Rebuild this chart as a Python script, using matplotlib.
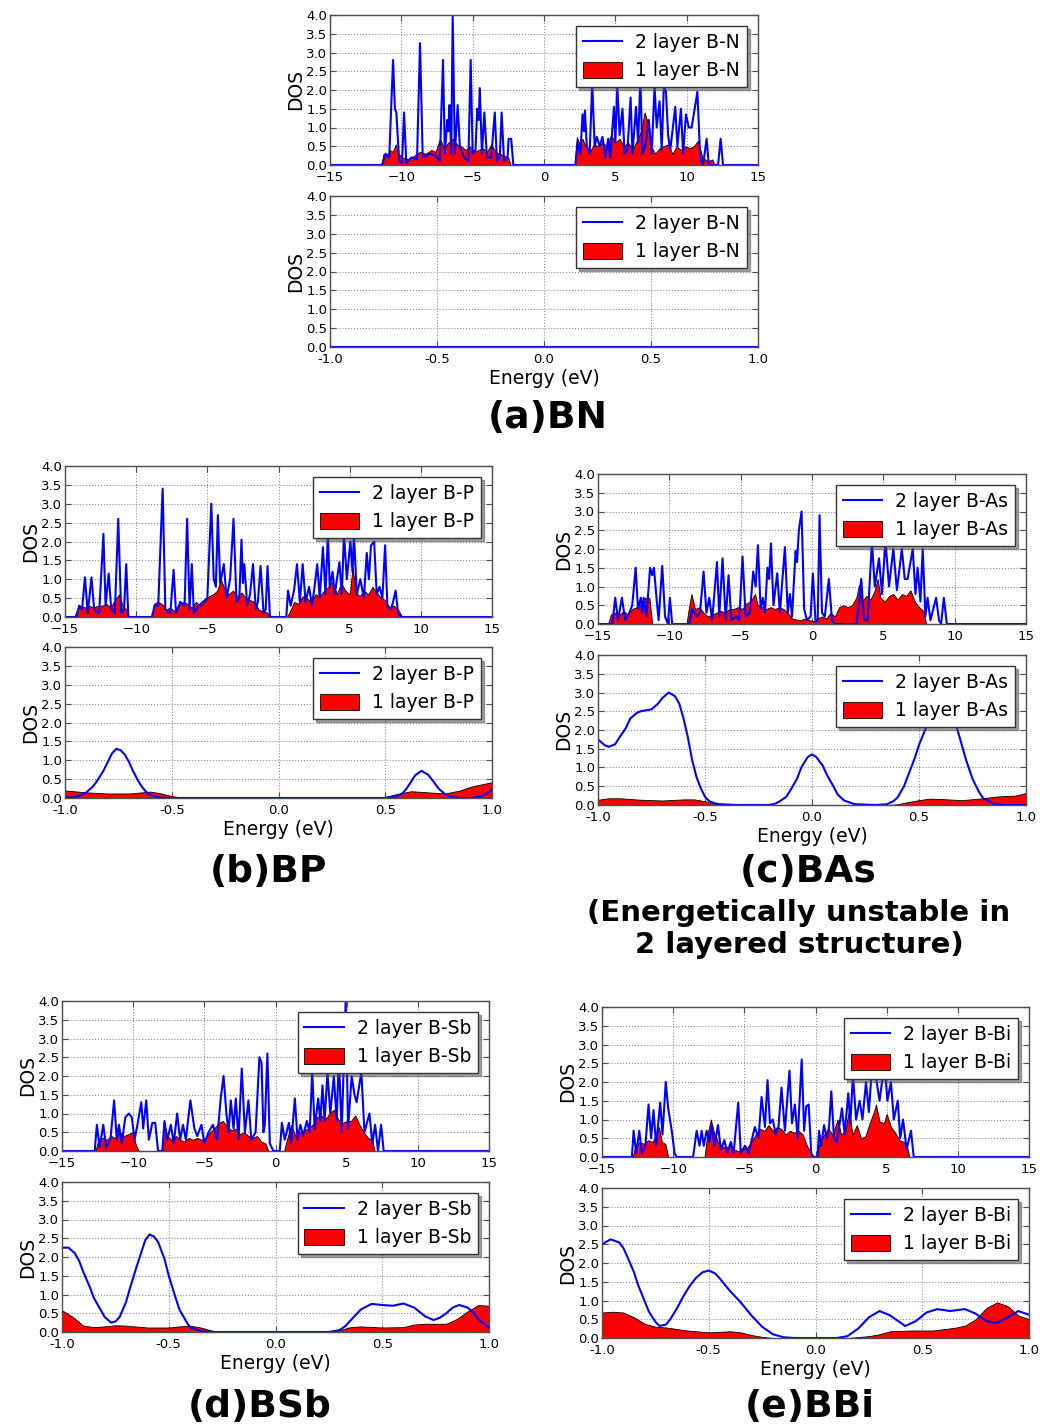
import matplotlib
matplotlib.use("Agg")
import matplotlib.pyplot as plt
import numpy as np

plt.rcParams['font.family'] = ['DejaVu Sans']

# ---------------- data ----------------
# wide range DOS, (energy, dos) pairs
bn_wide_2 = [(-15, 0), (-11.35, 0), (-11.1, 0.3), (-10.85, 0.2), (-10.58, 2.8), (-10.45, 1.5), (-10.35, 1.4),
             (-10.15, 0.1), (-9.95, 0.05), (-9.81, 1.4), (-9.65, 0.05), (-9.3, 0.2), (-8.9, 0.15), (-8.69, 3.25),
             (-8.5, 0.2), (-8.0, 0.3), (-7.6, 0.25), (-7.3, 0.1), (-7.08, 2.8), (-6.95, 0.3), (-6.78, 1.2),
             (-6.7, 0.9), (-6.62, 1.6), (-6.5, 0.3), (-6.4, 4.0), (-6.25, 0.3), (-6.05, 1.6), (-5.9, 0.5),
             (-5.6, 0.2), (-5.3, 0.1), (-5.14, 2.8), (-5.0, 0.3), (-4.8, 0.4), (-4.68, 1.5), (-4.58, 1.2),
             (-4.5, 2.05), (-4.35, 0.3), (-4.18, 1.4), (-4.0, 0.2), (-3.7, 0.2), (-3.45, 1.4), (-3.3, 0.1),
             (-3.1, 0.2), (-2.97, 1.4), (-2.8, 0.1), (-2.55, 0.2), (-2.48, 0.7), (-2.3, 0.7), (-2.15, 0.0),
             (2.2, 0.0), (2.35, 0.6), (2.55, 0.3), (2.7, 1.35), (2.8, 0.9), (2.87, 1.45), (3.0, 0.5), (3.2, 0.3),
             (3.38, 2.2), (3.55, 0.5), (3.7, 0.75), (3.9, 0.5), (4.1, 0.75), (4.3, 0.2), (4.5, 0.7), (4.65, 0.2),
             (4.9, 1.55), (5.0, 0.6), (5.14, 2.1), (5.3, 0.8), (5.5, 1.5), (5.65, 0.3), (5.85, 0.4), (6.07, 1.8),
             (6.2, 0.3), (6.45, 1.55), (6.6, 0.6), (6.75, 2.3), (6.9, 0.3), (7.1, 0.5), (7.35, 1.2), (7.55, 0.3),
             (7.75, 2.1), (7.9, 1.0), (8.1, 1.7), (8.25, 0.4), (8.4, 2.1), (8.55, 1.95), (8.7, 0.8), (8.85, 0.4),
             (9.2, 1.55), (9.35, 0.5), (9.6, 1.5), (9.75, 0.3), (9.95, 1.35), (10.15, 1.0), (10.35, 1.0),
             (10.75, 1.95), (10.95, 0.2), (11.15, 0.0), (11.4, 0.7), (11.55, 0.0), (12.2, 0.0), (12.38, 0.7),
             (12.55, 0.0), (15, 0)]
bn_wide_1 = [(-15, 0), (-11.4, 0), (-11.25, 0.3), (-11.0, 0.25), (-10.8, 0.4), (-10.6, 0.35), (-10.4, 0.55),
             (-10.2, 0.3), (-9.9, 0.2), (-9.5, 0.15), (-9.1, 0.25), (-8.7, 0.35), (-8.3, 0.3), (-7.9, 0.4),
             (-7.6, 0.35), (-7.3, 0.7), (-7.0, 0.45), (-6.7, 0.6), (-6.4, 0.7), (-6.1, 0.55), (-5.8, 0.5),
             (-5.5, 0.4), (-5.2, 0.5), (-4.9, 0.35), (-4.6, 0.4), (-4.3, 0.45), (-4.0, 0.35), (-3.7, 0.55),
             (-3.4, 0.35), (-3.1, 0.3), (-2.8, 0.25), (-2.5, 0.2), (-2.35, 0.0), (2.15, 0.0), (2.3, 0.75),
             (2.5, 0.55), (2.7, 0.7), (2.9, 0.5), (3.2, 0.35), (3.5, 0.55), (3.8, 0.5), (4.1, 0.6), (4.4, 0.5),
             (4.7, 0.8), (5.0, 0.6), (5.3, 0.7), (5.6, 0.5), (5.9, 0.6), (6.2, 0.4), (6.5, 0.65), (6.8, 0.9),
             (7.05, 1.4), (7.3, 1.1), (7.5, 0.5), (7.8, 0.3), (8.1, 0.45), (8.4, 0.5), (8.7, 0.55), (9.0, 0.3),
             (9.3, 0.5), (9.6, 0.4), (9.9, 0.5), (10.2, 0.45), (10.5, 0.5), (10.8, 0.65), (11.1, 0.2),
             (11.5, 0.1), (11.8, 0.15), (11.95, 0.0), (15, 0)]

bp_wide_2 = [(-15, 0), (-14.2, 0), (-14.0, 0.3), (-13.8, 0.2), (-13.6, 1.05), (-13.4, 0.1), (-13.14, 1.05),
             (-12.95, 0.2), (-12.6, 0.1), (-12.3, 2.2), (-12.15, 0.3), (-11.93, 1.15), (-11.75, 0.2), (-11.5, 0.1),
             (-11.26, 2.6), (-11.05, 0.1), (-10.85, 0.2), (-10.7, 1.4), (-10.55, 0.0), (-8.9, 0.0), (-8.7, 0.3),
             (-8.45, 0.3), (-8.14, 3.4), (-7.95, 0.2), (-7.6, 0.1), (-7.37, 1.25), (-7.2, 0.1), (-6.9, 0.4),
             (-6.6, 0.3), (-6.42, 2.6), (-6.25, 0.2), (-6.09, 1.4), (-5.95, 0.1), (-5.6, 0.3), (-5.3, 0.4),
             (-5.0, 0.5), (-4.72, 3.0), (-4.55, 1.0), (-4.4, 0.8), (-4.26, 2.7), (-4.1, 0.9), (-3.84, 1.4),
             (-3.65, 0.5), (-3.4, 1.0), (-3.16, 2.6), (-2.95, 0.4), (-2.75, 0.5), (-2.6, 2.05), (-2.5, 0.9),
             (-2.4, 1.4), (-2.2, 0.3), (-2.0, 0.6), (-1.79, 1.4), (-1.6, 0.2), (-1.45, 0.4), (-1.26, 1.35),
             (-1.05, 0.1), (-0.9, 0.2), (-0.77, 1.35), (-0.6, 0.0), (0.55, 0.0), (0.67, 0.7), (0.85, 0.3),
             (1.09, 0.7), (1.3, 1.4), (1.5, 0.4), (1.7, 1.4), (1.9, 0.4), (2.15, 0.8), (2.35, 0.3), (2.5, 0.7),
             (2.72, 1.4), (2.9, 0.5), (3.12, 1.85), (3.3, 0.6), (3.47, 2.2), (3.6, 0.8), (3.8, 1.2), (3.95, 0.6),
             (4.28, 1.45), (4.45, 0.6), (4.6, 2.2), (4.8, 1.0), (5.05, 2.0), (5.2, 1.2), (5.3, 2.2), (5.5, 0.6),
             (5.75, 1.0), (6.0, 0.5), (6.2, 1.7), (6.35, 1.0), (6.5, 1.9), (6.72, 2.0), (6.9, 0.6), (7.1, 0.8),
             (7.3, 0.5), (7.49, 1.9), (7.65, 0.3), (7.9, 0.2), (8.05, 0.4), (8.23, 0.7), (8.4, 0.1), (8.6, 0.0),
             (15, 0)]
bp_wide_1 = [(-15, 0), (-14.35, 0), (-14.15, 0.2), (-13.9, 0.3), (-13.6, 0.25), (-13.3, 0.3), (-13.0, 0.25),
             (-12.7, 0.3), (-12.4, 0.3), (-12.1, 0.35), (-11.8, 0.25), (-11.5, 0.45), (-11.2, 0.6), (-10.95, 0.3),
             (-10.7, 0.2), (-10.5, 0.0), (-8.9, 0.0), (-8.75, 0.35), (-8.5, 0.4), (-8.2, 0.35), (-7.9, 0.2),
             (-7.6, 0.25), (-7.3, 0.15), (-7.0, 0.3), (-6.7, 0.4), (-6.4, 0.35), (-6.1, 0.25), (-5.8, 0.4),
             (-5.5, 0.3), (-5.2, 0.4), (-4.9, 0.55), (-4.6, 0.6), (-4.3, 0.7), (-4.05, 1.0), (-3.8, 0.75),
             (-3.5, 0.6), (-3.2, 0.7), (-2.9, 0.55), (-2.6, 0.65), (-2.3, 0.5), (-2.0, 0.45), (-1.7, 0.4),
             (-1.4, 0.2), (-1.1, 0.15), (-0.8, 0.12), (-0.6, 0.0), (0.6, 0.0), (0.8, 0.15), (1.1, 0.4),
             (1.4, 0.35), (1.7, 0.55), (2.0, 0.5), (2.3, 0.4), (2.6, 0.6), (2.9, 0.55), (3.2, 0.7), (3.5, 0.8),
             (3.8, 0.95), (4.1, 0.6), (4.4, 0.9), (4.7, 0.7), (5.0, 0.6), (5.2, 1.3), (5.45, 0.65), (5.7, 0.55),
             (6.0, 0.7), (6.3, 0.6), (6.6, 0.8), (6.9, 0.65), (7.2, 0.5), (7.5, 0.45), (7.8, 0.25), (8.1, 0.3),
             (8.4, 0.2), (8.7, 0.0), (15, 0)]

bas_wide_2 = [(-15, 0), (-14.0, 0), (-13.79, 0.7), (-13.6, 0.1), (-13.32, 0.7), (-13.1, 0.1), (-12.8, 0.3),
              (-12.6, 0.5), (-12.36, 1.5), (-12.2, 0.4), (-12.0, 0.7), (-11.9, 0.3), (-11.8, 0.7), (-11.6, 0.2),
              (-11.35, 1.5), (-11.2, 1.3), (-11.08, 1.5), (-10.9, 0.7), (-10.75, 0.1), (-10.5, 1.55), (-10.3, 0.2),
              (-10.1, 0.0), (-9.96, 0.7), (-9.8, 0.0), (-8.6, 0.0), (-8.4, 0.4), (-8.1, 0.2), (-7.85, 0.3),
              (-7.6, 1.4), (-7.4, 0.3), (-7.2, 0.7), (-7.0, 0.1), (-6.66, 1.65), (-6.5, 0.2), (-6.27, 1.75),
              (-6.05, 0.1), (-5.85, 1.3), (-5.65, 0.1), (-5.3, 0.2), (-5.1, 0.1), (-4.87, 1.8), (-4.65, 0.2),
              (-4.35, 0.3), (-4.12, 1.4), (-3.95, 1.0), (-3.79, 2.1), (-3.6, 0.4), (-3.45, 0.7), (-3.3, 0.3),
              (-3.12, 1.5), (-3.0, 1.2), (-2.88, 2.15), (-2.7, 0.5), (-2.44, 1.35), (-2.25, 0.3), (-1.9, 2.05),
              (-1.7, 0.3), (-1.55, 0.8), (-1.4, 0.2), (-1.15, 1.95), (-1.05, 1.65), (-0.92, 2.5), (-0.73, 3.0),
              (-0.55, 0.4), (-0.35, 0.1), (-0.1, 0.2), (0.06, 1.35), (0.25, 0.05), (0.4, 0.1), (0.53, 2.9),
              (0.7, 0.3), (0.9, 0.2), (1.18, 1.2), (1.4, 0.1), (1.6, 0.0), (3.1, 0.0), (3.3, 0.5), (3.45, 1.2),
              (3.65, 0.1), (3.9, 0.1), (4.2, 2.2), (4.4, 1.0), (4.7, 1.75), (4.9, 0.8), (5.15, 2.2), (5.4, 1.0),
              (5.7, 2.0), (5.95, 0.9), (6.3, 2.0), (6.5, 1.2), (6.7, 1.2), (7.06, 2.0), (7.25, 0.8), (7.4, 1.5),
              (7.6, 0.6), (7.76, 2.0), (7.95, 0.2), (8.1, 0.7), (8.3, 0.1), (8.7, 0.7), (8.9, 0.1), (9.05, 0.0),
              (9.24, 0.7), (9.45, 0.0), (15, 0)]
bas_wide_1 = [(-15, 0), (-14.3, 0), (-14.1, 0.25), (-13.8, 0.3), (-13.5, 0.25), (-13.2, 0.35), (-12.9, 0.25),
              (-12.6, 0.4), (-12.3, 0.45), (-12.0, 0.5), (-11.7, 0.7), (-11.4, 0.7), (-11.2, 0.0), (-8.8, 0.0),
              (-8.6, 0.5), (-8.45, 0.8), (-8.2, 0.4), (-7.9, 0.45), (-7.6, 0.3), (-7.3, 0.2), (-7.0, 0.25),
              (-6.7, 0.3), (-6.4, 0.35), (-6.1, 0.3), (-5.8, 0.4), (-5.5, 0.4), (-5.2, 0.45), (-4.9, 0.4),
              (-4.6, 0.55), (-4.3, 0.6), (-4.0, 0.8), (-3.8, 0.5), (-3.5, 0.45), (-3.2, 0.4), (-2.9, 0.45),
              (-2.6, 0.4), (-2.3, 0.45), (-2.0, 0.4), (-1.7, 0.3), (-1.4, 0.15), (-1.1, 0.12), (-0.8, 0.1),
              (-0.5, 0.15), (-0.2, 0.1), (0.1, 0.08), (0.4, 0.15), (0.7, 0.2), (1.0, 0.15), (1.3, 0.3), (1.6, 0.2),
              (1.9, 0.45), (2.2, 0.5), (2.5, 0.45), (2.8, 0.5), (3.1, 0.7), (3.3, 1.05), (3.5, 0.6), (3.8, 0.75),
              (4.1, 0.65), (4.4, 0.9), (4.6, 1.2), (4.8, 0.7), (5.1, 0.6), (5.4, 0.75), (5.7, 0.8), (6.0, 0.65),
              (6.3, 0.8), (6.6, 0.75), (6.9, 0.9), (7.2, 0.6), (7.5, 0.45), (7.8, 0.35), (8.0, 0.0), (15, 0)]

bsb_wide_2 = [(-15, 0), (-12.7, 0), (-12.55, 0.7), (-12.35, 0.1), (-12.1, 0.7), (-11.9, 0.1), (-11.6, 0.3),
              (-11.34, 1.35), (-11.15, 0.3), (-11.0, 0.7), (-10.8, 0.2), (-10.55, 0.9), (-10.3, 1.0), (-10.1, 0.9),
              (-9.9, 0.3), (-9.7, 0.7), (-9.43, 1.3), (-9.3, 0.6), (-9.08, 1.35), (-8.9, 0.3), (-8.65, 0.75),
              (-8.45, 0.75), (-8.25, 0.0), (-7.95, 0.0), (-7.8, 0.8), (-7.6, 0.3), (-7.35, 0.7), (-7.15, 0.2),
              (-6.91, 1.0), (-6.7, 0.3), (-6.5, 0.7), (-6.3, 0.3), (-5.98, 1.35), (-5.7, 0.6), (-5.5, 0.4),
              (-5.2, 0.7), (-5.0, 0.2), (-4.7, 0.5), (-4.4, 0.7), (-4.1, 0.3), (-3.85, 1.4), (-3.65, 2.0),
              (-3.45, 1.0), (-3.3, 0.5), (-3.14, 1.35), (-2.95, 0.6), (-2.79, 1.4), (-2.6, 0.3), (-2.37, 2.2),
              (-2.15, 0.5), (-1.9, 1.35), (-1.7, 0.3), (-1.4, 0.5), (-1.13, 2.5), (-0.98, 2.35), (-0.85, 0.5),
              (-0.75, 0.7), (-0.57, 2.6), (-0.4, 0.2), (-0.15, 0.0), (0.3, 0.0), (0.45, 0.75), (0.65, 0.3),
              (0.94, 0.75), (1.1, 0.2), (1.36, 1.4), (1.55, 0.3), (1.75, 0.7), (1.95, 0.4), (2.2, 0.8), (2.4, 0.5),
              (2.58, 2.1), (2.75, 0.6), (3.0, 1.4), (3.15, 0.8), (3.3, 1.75), (3.45, 0.8), (3.65, 2.1), (3.85, 1.0),
              (4.1, 2.0), (4.3, 0.8), (4.45, 2.5), (4.65, 0.5), (4.93, 4.0), (5.1, 0.6), (5.35, 2.0), (5.55, 1.5),
              (5.7, 1.3), (6.03, 2.1), (6.25, 0.5), (6.6, 1.0), (6.8, 0.2), (7.0, 0.7), (7.2, 0.0), (7.42, 0.7),
              (7.6, 0.0), (15, 0)]
bsb_wide_1 = [(-15, 0), (-12.65, 0), (-12.45, 0.3), (-12.15, 0.35), (-11.85, 0.3), (-11.55, 0.4), (-11.25, 0.35),
              (-10.95, 0.5), (-10.65, 0.4), (-10.35, 0.45), (-10.05, 0.5), (-9.8, 0.15), (-9.6, 0.0), (-8.0, 0.0),
              (-7.85, 0.75), (-7.6, 0.4), (-7.3, 0.3), (-7.0, 0.4), (-6.7, 0.3), (-6.4, 0.25), (-6.1, 0.35),
              (-5.8, 0.3), (-5.5, 0.35), (-5.2, 0.3), (-4.9, 0.35), (-4.6, 0.5), (-4.3, 0.6), (-4.0, 0.75),
              (-3.7, 0.8), (-3.4, 0.65), (-3.1, 0.55), (-2.8, 0.6), (-2.5, 0.45), (-2.2, 0.5), (-1.9, 0.4),
              (-1.6, 0.35), (-1.3, 0.4), (-1.0, 0.25), (-0.7, 0.2), (-0.5, 0.0), (0.6, 0.0), (0.8, 0.3), (1.1, 0.7),
              (1.4, 0.4), (1.7, 0.5), (2.0, 0.55), (2.3, 0.6), (2.6, 0.7), (2.9, 0.9), (3.2, 0.95), (3.5, 0.85),
              (3.8, 1.0), (4.1, 1.1), (4.4, 0.85), (4.7, 0.75), (5.0, 0.8), (5.3, 0.8), (5.6, 0.95), (5.9, 0.7),
              (6.2, 0.5), (6.5, 0.35), (6.8, 0.3), (6.95, 0.0), (15, 0)]

bbi_wide_2 = [(-15, 0), (-12.9, 0), (-12.78, 0.7), (-12.6, 0.1), (-12.38, 0.7), (-12.2, 0.1), (-11.95, 0.3),
              (-11.73, 1.4), (-11.55, 0.5), (-11.38, 1.25), (-11.2, 0.3), (-10.91, 1.45), (-10.75, 0.6),
              (-10.52, 2.0), (-10.35, 1.3), (-10.1, 0.7), (-9.9, 0.1), (-9.75, 0.0), (-8.6, 0.0), (-8.35, 0.7),
              (-8.15, 0.3), (-8.0, 0.7), (-7.85, 0.3), (-7.65, 0.7), (-7.45, 0.4), (-7.29, 0.85), (-7.1, 0.3),
              (-6.85, 0.85), (-6.65, 0.2), (-6.4, 0.45), (-6.2, 0.1), (-5.95, 0.4), (-5.75, 0.1), (-5.43, 1.45),
              (-5.25, 0.1), (-4.95, 0.3), (-4.7, 0.1), (-4.26, 0.8), (-4.0, 0.5), (-3.79, 1.6), (-3.55, 0.8),
              (-3.37, 2.05), (-3.2, 0.9), (-3.0, 1.0), (-2.8, 0.6), (-2.6, 0.8), (-2.39, 1.85), (-2.15, 0.7),
              (-1.83, 2.3), (-1.65, 0.9), (-1.45, 1.4), (-1.25, 0.5), (-0.97, 2.6), (-0.8, 0.7), (-0.65, 1.35),
              (-0.48, 1.4), (-0.3, 0.1), (-0.15, 0.0), (0.15, 0.0), (0.25, 0.7), (0.4, 0.3), (0.6, 0.85),
              (0.8, 0.5), (0.95, 0.8), (1.11, 1.75), (1.3, 0.5), (1.5, 0.4), (1.86, 1.3), (2.05, 0.6), (2.3, 1.7),
              (2.45, 0.9), (2.63, 2.2), (2.85, 1.0), (3.1, 1.5), (3.3, 1.0), (3.55, 2.0), (3.75, 1.2), (3.95, 2.3),
              (4.26, 2.1), (4.5, 1.5), (4.85, 2.5), (5.05, 1.5), (5.3, 2.0), (5.5, 1.0), (5.78, 1.5), (5.95, 0.5),
              (6.15, 1.0), (6.4, 0.2), (6.71, 0.7), (6.9, 0.0), (15, 0)]
bbi_wide_1 = [(-15, 0), (-12.85, 0), (-12.65, 0.3), (-12.35, 0.4), (-12.05, 0.35), (-11.75, 0.45), (-11.45, 0.4),
              (-11.2, 0.6), (-11.0, 0.8), (-10.8, 0.4), (-10.55, 0.35), (-10.35, 0.0), (-7.8, 0.0), (-7.6, 0.6),
              (-7.35, 1.0), (-7.1, 0.6), (-6.85, 0.4), (-6.6, 0.3), (-6.3, 0.25), (-6.0, 0.3), (-5.7, 0.2),
              (-5.4, 0.15), (-5.1, 0.2), (-4.8, 0.25), (-4.5, 0.4), (-4.2, 0.6), (-3.9, 0.75), (-3.6, 0.7),
              (-3.3, 0.85), (-3.0, 0.7), (-2.7, 0.8), (-2.4, 0.75), (-2.1, 0.6), (-1.8, 0.7), (-1.5, 0.65),
              (-1.2, 0.7), (-0.9, 0.6), (-0.6, 0.3), (-0.3, 0.1), (-0.1, 0.0), (0.1, 0.0), (0.3, 0.4), (0.6, 0.6),
              (0.9, 0.75), (1.2, 0.6), (1.55, 1.0), (1.8, 0.6), (2.1, 0.7), (2.35, 1.25), (2.6, 0.6), (2.9, 0.85),
              (3.2, 0.5), (3.5, 0.55), (3.8, 0.9), (4.1, 1.2), (4.25, 1.4), (4.5, 0.95), (4.8, 0.9), (5.0, 1.15),
              (5.3, 0.8), (5.6, 0.65), (5.9, 0.45), (6.2, 0.4), (6.45, 0.25), (6.6, 0.0), (15, 0)]

# near the Fermi level, -1 .. 1 eV
bn_near_2 = [(-1.0, 0.0), (1.0, 0.0)]
bn_near_1 = [(-1.0, 0.0), (1.0, 0.0)]

bp_near_2 = [(-1.0, 0.0), (-0.95, 0.03), (-0.92, 0.08), (-0.9, 0.15), (-0.87, 0.3), (-0.85, 0.45), (-0.82, 0.72),
             (-0.8, 0.95), (-0.78, 1.18), (-0.76, 1.3), (-0.74, 1.27), (-0.72, 1.15), (-0.7, 0.95), (-0.68, 0.7),
             (-0.66, 0.48), (-0.64, 0.3), (-0.62, 0.16), (-0.6, 0.08), (-0.57, 0.03), (-0.55, 0.01), (-0.5, 0.0),
             (0.5, 0.0), (0.55, 0.04), (0.58, 0.12), (0.6, 0.25), (0.62, 0.42), (0.64, 0.6), (0.67, 0.72),
             (0.7, 0.62), (0.72, 0.48), (0.75, 0.25), (0.78, 0.1), (0.8, 0.05), (0.85, 0.0), (0.9, 0.0),
             (0.95, 0.05), (0.98, 0.13), (1.0, 0.22)]
bp_near_1 = [(-1.0, 0.2), (-0.9, 0.15), (-0.8, 0.12), (-0.7, 0.12), (-0.6, 0.17), (-0.55, 0.12), (-0.5, 0.05),
             (-0.45, 0.01), (-0.4, 0.0), (0.45, 0.0), (0.5, 0.03), (0.55, 0.1), (0.62, 0.18), (0.7, 0.15),
             (0.78, 0.12), (0.85, 0.2), (0.9, 0.3), (0.95, 0.36), (1.0, 0.42)]

bas_near_2 = [(-1.0, 1.75), (-0.97, 1.6), (-0.95, 1.55), (-0.92, 1.62), (-0.9, 1.8), (-0.87, 2.05), (-0.85, 2.3),
              (-0.82, 2.45), (-0.8, 2.5), (-0.75, 2.55), (-0.72, 2.7), (-0.7, 2.85), (-0.67, 3.0), (-0.64, 2.9),
              (-0.62, 2.7), (-0.6, 2.3), (-0.58, 1.8), (-0.56, 1.2), (-0.54, 0.75), (-0.52, 0.45), (-0.5, 0.22),
              (-0.48, 0.1), (-0.45, 0.04), (-0.43, 0.02), (-0.35, 0.0), (-0.2, 0.0), (-0.17, 0.04), (-0.15, 0.1),
              (-0.12, 0.22), (-0.1, 0.4), (-0.07, 0.7), (-0.05, 1.0), (-0.02, 1.28), (0.0, 1.35), (0.02, 1.28),
              (0.05, 1.05), (0.07, 0.8), (0.1, 0.5), (0.12, 0.28), (0.15, 0.12), (0.2, 0.02), (0.3, 0.0),
              (0.35, 0.02), (0.38, 0.1), (0.4, 0.2), (0.43, 0.5), (0.45, 0.8), (0.48, 1.25), (0.5, 1.6),
              (0.55, 2.3), (0.6, 2.7), (0.65, 2.5), (0.68, 2.0), (0.7, 1.6), (0.72, 1.2), (0.75, 0.7),
              (0.78, 0.35), (0.8, 0.18), (0.85, 0.03), (0.9, 0.0), (1.0, 0.0)]
bas_near_1 = [(-1.0, 0.14), (-0.95, 0.18), (-0.9, 0.18), (-0.8, 0.14), (-0.7, 0.12), (-0.6, 0.15), (-0.55, 0.15),
              (-0.5, 0.1), (-0.45, 0.03), (-0.4, 0.0), (0.35, 0.0), (0.4, 0.02), (0.45, 0.08), (0.5, 0.13),
              (0.55, 0.17), (0.6, 0.16), (0.7, 0.13), (0.8, 0.18), (0.85, 0.22), (0.9, 0.24), (0.95, 0.25),
              (1.0, 0.32)]

bsb_near_2 = [(-1.0, 2.25), (-0.97, 2.25), (-0.94, 2.1), (-0.92, 1.9), (-0.9, 1.6), (-0.87, 1.2), (-0.85, 0.9),
              (-0.82, 0.6), (-0.8, 0.4), (-0.77, 0.25), (-0.75, 0.28), (-0.73, 0.4), (-0.7, 0.8), (-0.68, 1.2),
              (-0.65, 1.75), (-0.63, 2.1), (-0.61, 2.45), (-0.59, 2.6), (-0.57, 2.55), (-0.55, 2.4), (-0.52, 1.95),
              (-0.5, 1.5), (-0.47, 0.95), (-0.45, 0.6), (-0.42, 0.3), (-0.4, 0.12), (-0.35, 0.02), (-0.3, 0.0),
              (0.25, 0.0), (0.3, 0.05), (0.33, 0.17), (0.35, 0.3), (0.38, 0.48), (0.4, 0.6), (0.45, 0.75),
              (0.5, 0.72), (0.55, 0.7), (0.6, 0.76), (0.65, 0.65), (0.7, 0.42), (0.74, 0.32), (0.77, 0.38),
              (0.8, 0.5), (0.83, 0.65), (0.86, 0.72), (0.9, 0.65), (0.93, 0.5), (0.95, 0.35), (0.98, 0.2),
              (1.0, 0.12)]
bsb_near_1 = [(-1.0, 0.58), (-0.95, 0.4), (-0.9, 0.17), (-0.85, 0.13), (-0.8, 0.15), (-0.75, 0.18), (-0.7, 0.17),
              (-0.6, 0.12), (-0.5, 0.12), (-0.45, 0.15), (-0.4, 0.17), (-0.35, 0.12), (-0.3, 0.04), (-0.25, 0.0),
              (0.25, 0.0), (0.3, 0.05), (0.35, 0.13), (0.4, 0.15), (0.5, 0.12), (0.6, 0.13), (0.65, 0.2),
              (0.7, 0.22), (0.8, 0.22), (0.85, 0.35), (0.9, 0.55), (0.95, 0.72), (1.0, 0.7)]

bbi_near_2 = [(-1.0, 2.5), (-0.96, 2.63), (-0.92, 2.55), (-0.9, 2.4), (-0.88, 2.15), (-0.85, 1.75), (-0.83, 1.4),
              (-0.8, 0.98), (-0.78, 0.7), (-0.75, 0.43), (-0.73, 0.32), (-0.7, 0.36), (-0.68, 0.5), (-0.65, 0.78),
              (-0.62, 1.1), (-0.59, 1.38), (-0.56, 1.6), (-0.53, 1.75), (-0.5, 1.8), (-0.47, 1.72), (-0.45, 1.6),
              (-0.4, 1.25), (-0.35, 0.95), (-0.3, 0.6), (-0.25, 0.3), (-0.2, 0.1), (-0.15, 0.02), (-0.1, 0.0),
              (0.1, 0.0), (0.15, 0.05), (0.2, 0.25), (0.25, 0.55), (0.3, 0.72), (0.35, 0.6), (0.42, 0.32),
              (0.47, 0.45), (0.52, 0.68), (0.57, 0.77), (0.63, 0.72), (0.7, 0.77), (0.75, 0.65), (0.8, 0.45),
              (0.85, 0.4), (0.9, 0.55), (0.95, 0.72), (1.0, 0.62)]
bbi_near_1 = [(-1.0, 0.68), (-0.95, 0.7), (-0.9, 0.68), (-0.85, 0.55), (-0.8, 0.38), (-0.75, 0.3), (-0.7, 0.28),
              (-0.6, 0.2), (-0.5, 0.15), (-0.4, 0.18), (-0.35, 0.15), (-0.3, 0.08), (-0.25, 0.03), (-0.2, 0.0),
              (0.15, 0.0), (0.25, 0.05), (0.3, 0.1), (0.35, 0.18), (0.45, 0.2), (0.55, 0.2), (0.65, 0.27),
              (0.7, 0.33), (0.75, 0.5), (0.8, 0.8), (0.85, 0.95), (0.9, 0.85), (0.95, 0.6), (1.0, 0.5)]

pairs = ['B-N', 'B-P', 'B-As', 'B-Sb', 'B-Bi']
titles = ['(a)BN', '(b)BP', '(c)BAs', '(d)BSb', '(e)BBi']
note = '(Energetically unstable in\n2 layered structure)'

# ---------------- layout (pixel boxes: x0, y0 top, x1, y1 bottom) ----------------
W, H = 1043, 1427
fig = plt.figure(figsize=(W / 100, H / 100), dpi=100)
fig.patch.set_facecolor('white')


def px_axes(x0, y0, x1, y1):
    return fig.add_axes([x0 / W, 1 - y1 / H, (x1 - x0) / W, (y1 - y0) / H])


def dos_plot(ax, two, one, name, wide):
    e2, d2 = zip(*two)
    e1, d1 = zip(*one)
    poly = ax.fill_between(e1, 0, d1, facecolor='red', edgecolor='black', linewidth=0.6, zorder=2)
    line, = ax.plot(e2, d2, color='blue', linewidth=1.5, zorder=3)
    if wide:
        ax.set_xlim(-15, 15)
        ax.set_xticks(np.arange(-15, 16, 5))
    else:
        ax.set_xlim(-1, 1)
        ax.set_xticks([-1.0, -0.5, 0.0, 0.5, 1.0])
        ax.xaxis.set_major_formatter(matplotlib.ticker.FormatStrFormatter('%.1f'))
        ax.set_xlabel('Energy (eV)', fontsize=13.5, labelpad=2)
    ax.set_ylim(0, 4)
    ax.set_yticks(np.arange(0, 4.01, 0.5))
    ax.yaxis.set_major_formatter(matplotlib.ticker.FormatStrFormatter('%.1f'))
    ax.set_ylabel('DOS', fontsize=13.5, labelpad=1)
    ax.grid(True, linestyle=':', color='0.55', linewidth=0.8, zorder=0)
    ax.set_axisbelow(True)
    ax.tick_params(direction='in', top=True, right=True, labelsize=9.5, length=4, color='0.3')
    ax.tick_params(axis='x', pad=4.5)
    ax.tick_params(axis='y', pad=2)
    for sp in ax.spines.values():
        sp.set_color('0.3')
        sp.set_linewidth(1.0)
        sp.set_zorder(4)
    leg = ax.legend([line, poly], ['2 layer ' + name, '1 layer ' + name], loc='upper right',
                    fontsize=13.5, fancybox=False, shadow=True, framealpha=1,
                    labelspacing=0.5, borderpad=0.35, handletextpad=0.7, borderaxespad=0.6,
                    handlelength=2.1, handleheight=0.9)
    leg.get_frame().set_edgecolor('0.2')
    leg.get_frame().set_linewidth(1.0)
    leg.set_zorder(5)


boxes = [
    ((330, 15, 758, 165), (330, 196, 758, 347)),
    ((65, 466, 492, 617), (65, 647, 492, 798)),
    ((598, 474, 1026, 624), (598, 655, 1026, 805)),
    ((62, 1001, 489, 1151), (62, 1182, 489, 1332)),
    ((602, 1007, 1029, 1157), (602, 1188, 1029, 1338)),
]
wide_data = [(bn_wide_2, bn_wide_1), (bp_wide_2, bp_wide_1), (bas_wide_2, bas_wide_1),
             (bsb_wide_2, bsb_wide_1), (bbi_wide_2, bbi_wide_1)]
near_data = [(bn_near_2, bn_near_1), (bp_near_2, bp_near_1), (bas_near_2, bas_near_1),
             (bsb_near_2, bsb_near_1), (bbi_near_2, bbi_near_1)]

for i in range(5):
    top, bot = boxes[i]
    ax1 = px_axes(*top)
    dos_plot(ax1, wide_data[i][0], wide_data[i][1], pairs[i], True)
    ax2 = px_axes(*bot)
    dos_plot(ax2, near_data[i][0], near_data[i][1], pairs[i], False)

# panel titles
title_pos = [(548, 418), (268, 872), (808, 872), (260, 1407), (810, 1407)]
for t, (x, y) in zip(titles, title_pos):
    fig.text(x / W, 1 - y / H, t, fontsize=27, fontweight='bold', ha='center', va='center')
fig.text(799 / W, 1 - 929 / H, note, fontsize=21, fontweight='bold', ha='center', va='center',
         linespacing=1.15)

fig.savefig('out.png', dpi=100, facecolor='white')
